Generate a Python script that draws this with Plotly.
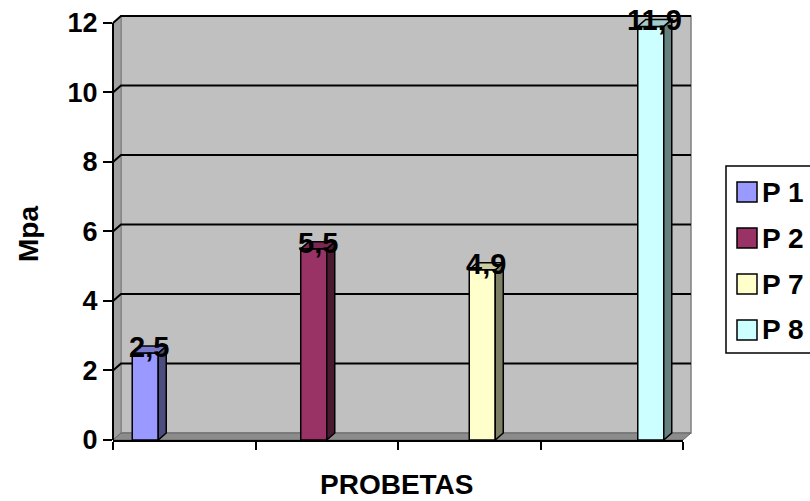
import plotly.graph_objects as go

# ---- data ----
series_names = ["P 1", "P 2", "P 7", "P 8"]
series_values = [2.5, 5.5, 4.9, 11.9]
series_colors = ["#9999FF", "#993366", "#FFFFCC", "#CCFFFF"]
categories = [0, 1, 2, 3]
y_ticks = [0, 2, 4, 6, 8, 10, 12]
x_title = "PROBETAS"
y_title = "Mpa"

# ---- geometry ----
W, H = 810, 501
L, R, T, B = 113, 127, 9, 61
PW, PH = W - L - R, H - T - B
Y_MAX = 12.4          # extra headroom for the 3D tops
Y_AXIS_TOP = 12
BARGAP = 0.27
DEPTH_X, DEPTH_Y = 8, 7   # pixel depth of the 3D effect

FONT = "Liberation Sans, Arial, sans-serif"

x_range = [-0.5, len(categories) - 0.5]
px_per_x = PW / (x_range[1] - x_range[0])
px_per_y = PH / Y_MAX
dxu = DEPTH_X / px_per_x
dyu = DEPTH_Y / px_per_y
dxp = DEPTH_X / PW


def shade(hex_color, f):
    h = hex_color.lstrip("#")
    r, g, b = (int(h[i:i + 2], 16) for i in (0, 2, 4))
    return "#%02x%02x%02x" % (int(r * f), int(g * f), int(b * f))


def px_x(p):
    return (p - L) / PW


def px_y(p):
    return (H - B - p) / PH


def fmt(v):
    return f"{v:.1f}".replace(".", ",")


fig = go.Figure()
n = len(series_names)
bw = (1 - BARGAP) / n

for j, (name, val, col) in enumerate(zip(series_names, series_values, series_colors)):
    ys = [val if i == j else None for i in categories]
    fig.add_bar(x=categories, y=ys, name=name, marker=dict(color=col, line=dict(color="black", width=1.5)),
                showlegend=False)

shapes = []
# back wall, side wall and floor of the 3D frame
shapes.append(dict(type="rect", xref="paper", yref="y", x0=dxp, x1=1 + dxp, y0=dyu, y1=Y_AXIS_TOP + dyu,
                   fillcolor="#C0C0C0", line=dict(color="#808080", width=1.5), layer="below"))
shapes.append(dict(type="path", xref="paper", yref="y",
                   path=f"M0,0 L0,{Y_AXIS_TOP} L{dxp},{Y_AXIS_TOP + dyu} L{dxp},{dyu} Z",
                   fillcolor="#A0A0A0", line=dict(color="#808080", width=1), layer="below"))
shapes.append(dict(type="path", xref="paper", yref="y",
                   path=f"M0,0 L1,0 L{1 + dxp},{dyu} L{dxp},{dyu} Z",
                   fillcolor="#8C8C8C", line=dict(color="#666666", width=1), layer="below"))
# gridlines on the back wall
for v in y_ticks[1:]:
    shapes.append(dict(type="path", xref="paper", yref="y",
                       path=f"M0,{v} L{dxp},{v + dyu} L{1 + dxp},{v + dyu}",
                       line=dict(color="black", width=2), layer="below"))
# y axis line
shapes.append(dict(type="line", xref="paper", yref="y", x0=0, x1=0, y0=0, y1=Y_AXIS_TOP,
                   line=dict(color="black", width=2)))

# 3D side and top faces of each bar
annotations = []
for j, (val, col) in enumerate(zip(series_values, series_colors)):
    xl = categories[j] - (1 - BARGAP) / 2 + bw * j
    xr = xl + bw
    shapes.append(dict(type="path", xref="x", yref="y",
                       path=f"M{xr},0 L{xr},{val} L{xr + dxu},{val + dyu} L{xr + dxu},{dyu} Z",
                       fillcolor=shade(col, 0.5), line=dict(color="black", width=1.5)))
    shapes.append(dict(type="path", xref="x", yref="y",
                       path=f"M{xl},{val} L{xr},{val} L{xr + dxu},{val + dyu} L{xl + dxu},{val + dyu} Z",
                       fillcolor=shade(col, 0.8), line=dict(color="black", width=1.5)))
    annotations.append(dict(x=(xl + xr) / 2, y=val, xref="x", yref="y", text=fmt(val), showarrow=False,
                            xshift=4, yshift=6, yanchor="middle",
                            font=dict(family=FONT, size=29, color="black", weight="bold")))

# legend
leg_x0, leg_x1, leg_y0, leg_y1 = 726, 816, 166, 353
shapes.append(dict(type="rect", xref="paper", yref="paper", x0=px_x(leg_x0), x1=px_x(leg_x1),
                   y0=px_y(leg_y1), y1=px_y(leg_y0), fillcolor="white", line=dict(color="black", width=1.5)))
item_y = [192, 238, 284, 330]
for name, col, yc in zip(series_names, series_colors, item_y):
    shapes.append(dict(type="rect", xref="paper", yref="paper", x0=px_x(737), x1=px_x(757),
                       y0=px_y(yc + 10), y1=px_y(yc - 10), fillcolor=col, line=dict(color="black", width=1.5)))
    annotations.append(dict(x=px_x(760), y=px_y(yc), xref="paper", yref="paper", text=name, showarrow=False,
                            xanchor="left", yanchor="middle",
                            font=dict(family=FONT, size=28, color="black", weight="bold")))

# axis titles
annotations.append(dict(x=px_x(397), y=px_y(484), xref="paper", yref="paper", text=x_title, showarrow=False,
                        xanchor="center", yanchor="middle",
                        font=dict(family=FONT, size=28, color="black", weight="bold")))
annotations.append(dict(x=px_x(29), y=px_y(234), xref="paper", yref="paper", text=y_title, showarrow=False,
                        textangle=-90, xanchor="center", yanchor="middle",
                        font=dict(family=FONT, size=28, color="black", weight="bold")))

fig.update_layout(
    width=W, height=H,
    margin=dict(l=L, r=R, t=T, b=B, pad=0),
    paper_bgcolor="white", plot_bgcolor="rgba(0,0,0,0)",
    barmode="group", bargap=BARGAP, bargroupgap=0,
    shapes=shapes, annotations=annotations,
    xaxis=dict(range=x_range, showgrid=False, zeroline=False, showline=True, linecolor="black", linewidth=2,
               tickmode="array", tickvals=[c - 0.5 for c in categories] + [categories[-1] + 0.5],
               ticktext=[""] * (len(categories) + 1), ticks="outside", ticklen=8, tickwidth=2,
               tickcolor="black"),
    yaxis=dict(range=[0, Y_MAX], showgrid=False, zeroline=False, showline=False,
               tickmode="array", tickvals=y_ticks, ticktext=[str(t) for t in y_ticks],
               ticks="outside", ticklen=9, tickwidth=2, tickcolor="black",
               tickfont=dict(family=FONT, size=27, color="black", weight="bold")),
)

fig.write_html("out.html")
